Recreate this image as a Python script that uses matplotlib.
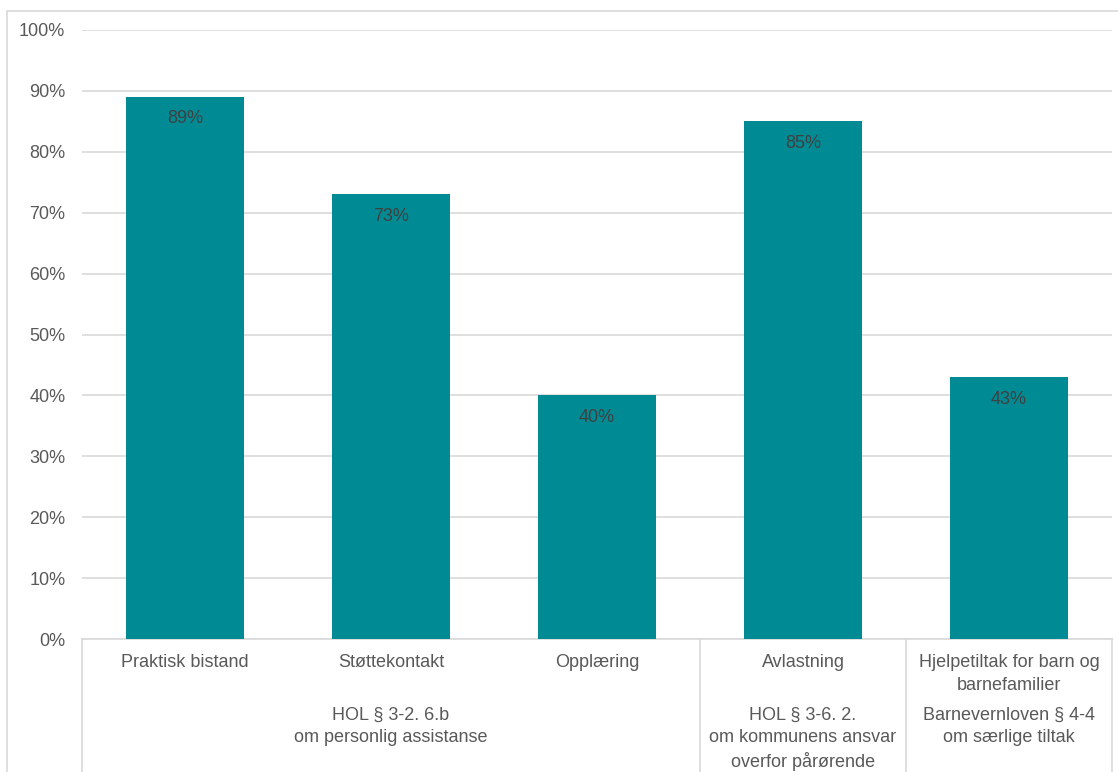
import matplotlib.pyplot as plt
from matplotlib.patches import Rectangle

# data
categories = ["Praktisk bistand", "Støttekontakt", "Opplæring", "Avlastning",
              "Hjelpetiltak for barn og\nbarnefamilier"]
values = [89, 73, 40, 85, 43]
groups = ["HOL § 3-2. 6.b\nom personlig assistanse",
          "HOL § 3-6. 2.\nom kommunens ansvar\noverfor pårørende",
          "Barnevernloven § 4-4\nom særlige tiltak"]
group_spans = [(0, 2), (3, 3), (4, 4)]
yticks = [0, 10, 20, 30, 40, 50, 60, 70, 80, 90, 100]

plt.rcParams['font.family'] = ['Liberation Sans', 'DejaVu Sans']
text_col = "#595959"
bar_col = "#008B94"
grid_col = "#d9d9d9"
fs = 13

fig = plt.figure(figsize=(11.18, 7.72), dpi=100)
ax = fig.add_axes([82 / 1118, 1 - 639 / 772, 1030 / 1118, 609 / 772])

x = list(range(len(categories)))
bars = ax.bar(x, values, width=0.57, color=bar_col, zorder=3)
for xi, v in zip(x, values):
    ax.annotate(f"{v}%", (xi, v), xytext=(0, -22), textcoords="offset pixels",
                ha="center", va="center", fontsize=fs, color="#404040", zorder=4)

ax.set_xlim(-0.5, len(categories) - 0.5)
ax.set_ylim(0, 100)
ax.set_yticks(yticks)
ax.set_yticklabels([f"{t}%" for t in yticks])
ax.tick_params(axis="y", length=0, pad=12, labelsize=fs, labelcolor=text_col)
ax.set_xticks([])
ax.yaxis.grid(True, color=grid_col, linewidth=1.2, zorder=0)
for s in ["top", "right", "left"]:
    ax.spines[s].set_visible(False)
ax.spines["bottom"].set_color(grid_col)
ax.spines["bottom"].set_linewidth(1.2)

# multi-level category axis
trans = ax.get_xaxis_transform()
for xi, lab in zip(x, categories):
    ax.text(xi, -0.024, lab, transform=trans, ha="center", va="top",
            fontsize=fs, color=text_col, linespacing=1.5)
for (a, b), lab in zip(group_spans, groups):
    ax.text((a + b) / 2, -0.112, lab, transform=trans, ha="center", va="top",
            fontsize=fs, color=text_col, linespacing=1.4)

# separator lines below the axis
seps = [-0.5] + [b + 0.5 for a, b in group_spans]
for sx in seps:
    ax.plot([sx, sx], [0, -0.23], transform=trans, color=grid_col,
            linewidth=1.2, clip_on=False)

# outer chart border
fig.patches.append(Rectangle((7 / 1118, -0.05), 1.2, 1 - 11 / 772 + 0.05,
                             transform=fig.transFigure, fill=False,
                             edgecolor=grid_col, linewidth=1.2))

fig.savefig("out.png", dpi=100)
